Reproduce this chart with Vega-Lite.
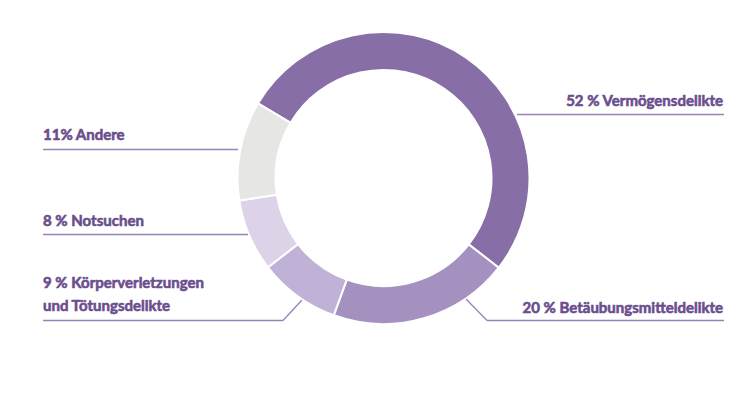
{
  "$schema": "https://vega.github.io/schema/vega-lite/v6.json",
  "width": 749,
  "height": 395,
  "padding": 0,
  "autosize": {"type": "none"},
  "background": "white",
  "config": {"view": {"stroke": null}},
  "datasets": {
    "shares": [
      {"cat": "Vermögensdelikte", "pct": 52, "rank": 1},
      {"cat": "Betäubungsmitteldelikte", "pct": 20, "rank": 2},
      {"cat": "Körperverletzungen und Tötungsdelikte", "pct": 9, "rank": 3},
      {"cat": "Notsuchen", "pct": 8, "rank": 4},
      {"cat": "Andere", "pct": 11, "rank": 5}
    ],
    "labels": [
      {"text": ["52 % Vermögensdelikte"], "side": "right", "tx": 723, "ty": 106},
      {"text": ["20 % Betäubungsmitteldelikte"], "side": "right", "tx": 723, "ty": 312.5},
      {"text": ["11% Andere"], "side": "left", "tx": 43, "ty": 140},
      {"text": ["8 % Notsuchen"], "side": "left", "tx": 43, "ty": 226},
      {"text": ["9 % Körperverletzungen", "und Tötungsdelikte"], "side": "left", "tx": 43, "ty": 288}
    ],
    "leaders": [
      {"x1": 517, "y1": 114.5, "x2": 724, "y2": 114.5},
      {"x1": 43, "y1": 149.5, "x2": 238, "y2": 149.5},
      {"x1": 43, "y1": 234.5, "x2": 248, "y2": 234.5},
      {"x1": 43, "y1": 320.5, "x2": 283, "y2": 320.5},
      {"x1": 283, "y1": 320.5, "x2": 302, "y2": 300},
      {"x1": 487, "y1": 320.5, "x2": 724, "y2": 320.5},
      {"x1": 487, "y1": 320.5, "x2": 466, "y2": 299}
    ]
  },
  "resolve": {"scale": {"color": "independent"}},
  "layer": [
    {
      "data": {"name": "shares"},
      "mark": {"type": "arc", "innerRadius": 108, "outerRadius": 146, "stroke": "white", "strokeWidth": 2},
      "encoding": {
        "x": {"datum": 383.5, "type": "quantitative", "scale": {"domain": [0, 749]}, "axis": null},
        "y": {"datum": 178, "type": "quantitative", "scale": {"domain": [395, 0]}, "axis": null},
        "theta": {"field": "pct", "type": "quantitative", "stack": true, "scale": {"range": [-1.035, 5.2482]}},
        "order": {"field": "rank", "type": "quantitative"},
        "color": {
          "field": "cat", "type": "nominal", "legend": null,
          "scale": {
            "domain": ["Vermögensdelikte", "Betäubungsmitteldelikte", "Körperverletzungen und Tötungsdelikte", "Notsuchen", "Andere"],
            "range": ["#876ea6", "#a591c0", "#c0b2d6", "#ddd3e8", "#e6e6e4"]
          }
        }
      }
    },
    {
      "data": {"name": "leaders"},
      "mark": {"type": "rule", "color": "#9783b5", "strokeWidth": 1.3},
      "encoding": {
        "x": {"field": "x1", "type": "quantitative", "scale": {"domain": [0, 749]}, "axis": null},
        "y": {"field": "y1", "type": "quantitative", "scale": {"domain": [395, 0]}, "axis": null},
        "x2": {"field": "x2"},
        "y2": {"field": "y2"}
      }
    },
    {
      "data": {"name": "labels"},
      "transform": [{"filter": "datum.side === 'left'"}],
      "mark": {"type": "text", "align": "left", "baseline": "alphabetic", "font": "Lato", "fontWeight": "bold", "fontSize": 15, "lineHeight": 22.5, "color": "#6b4e8e", "stroke": "#6b4e8e", "strokeWidth": 0.6},
      "encoding": {
        "x": {"field": "tx", "type": "quantitative", "scale": {"domain": [0, 749]}, "axis": null},
        "y": {"field": "ty", "type": "quantitative", "scale": {"domain": [395, 0]}, "axis": null},
        "text": {"field": "text"}
      }
    },
    {
      "data": {"name": "labels"},
      "transform": [{"filter": "datum.side === 'right'"}],
      "mark": {"type": "text", "align": "right", "baseline": "alphabetic", "font": "Lato", "fontWeight": "bold", "fontSize": 15, "lineHeight": 22.5, "color": "#6b4e8e", "stroke": "#6b4e8e", "strokeWidth": 0.6},
      "encoding": {
        "x": {"field": "tx", "type": "quantitative", "scale": {"domain": [0, 749]}, "axis": null},
        "y": {"field": "ty", "type": "quantitative", "scale": {"domain": [395, 0]}, "axis": null},
        "text": {"field": "text"}
      }
    }
  ]
}
